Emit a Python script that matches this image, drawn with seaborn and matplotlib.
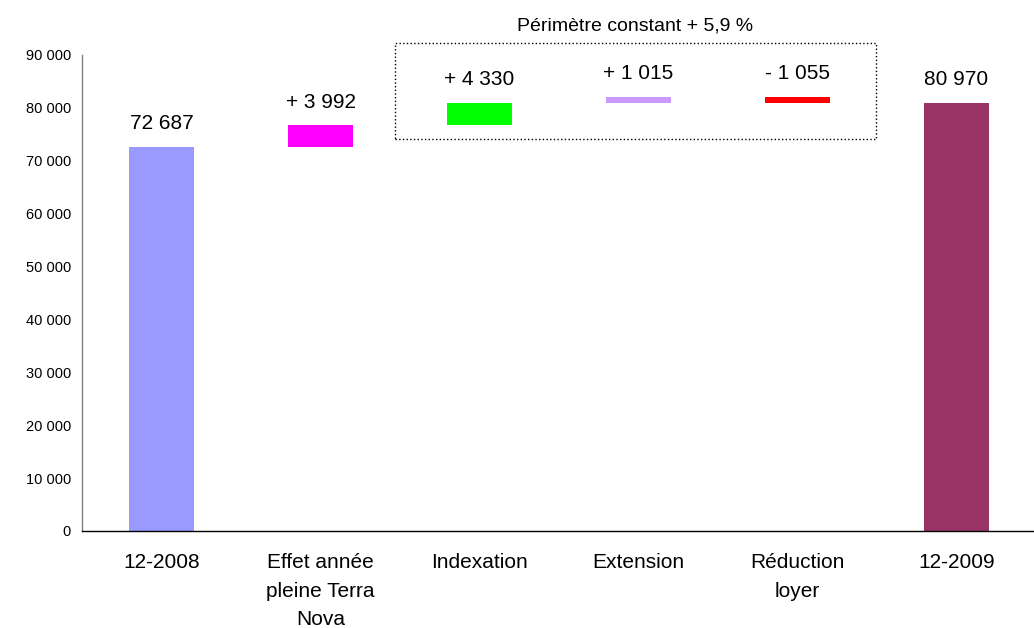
import numpy as np
import pandas as pd
import matplotlib
matplotlib.use("Agg")
import matplotlib.pyplot as plt
from matplotlib.patches import Rectangle
from matplotlib.ticker import FuncFormatter, FixedLocator
import seaborn as sns

# Waterfall data (loyers, k€)
categories = ["12-2008", "Effet année\npleine Terra\nNova", "Indexation",
              "Extension", "Réduction\nloyer", "12-2009"]
start_value = 72687
deltas = [3992, 4330, 1015, -1055]
end_value = 80970
labels = ["72 687", "+ 3 992", "+ 4 330", "+ 1 015", "- 1 055", "80 970"]
colors = ["#9999FF", "#FF00FF", "#00FF00", "#CC99FF", "#FF0000", "#993366"]
box_title = "Périmètre constant + 5,9 %"

# build bar tops / bottoms from the running total
tops, bases = [start_value], [0]
running = start_value
for d in deltas:
    new = running + d
    tops.append(max(running, new))
    bases.append(min(running, new))
    running = new
tops.append(end_value)
bases.append(0)

df = pd.DataFrame({"cat": categories, "top": tops, "base": bases})

sns.set_style("white")
plt.rcParams["font.family"] = ["Liberation Sans", "DejaVu Sans"]
plt.rcParams["text.color"] = "black"
plt.rcParams["xtick.labelcolor"] = "black"
plt.rcParams["ytick.labelcolor"] = "black"

fig = plt.figure(figsize=(10.34, 6.28), dpi=100)
ax = fig.add_axes([82 / 1034, 1 - 531 / 628, 954 / 1034, 476 / 628])

sns.barplot(data=df, x="cat", y="top", hue="cat", palette=colors, legend=False,
            width=0.41, saturation=1, linewidth=0, ax=ax)
# mask the lower part of floating bars
sns.barplot(data=df, x="cat", y="base", color="white", width=0.41, saturation=1,
            linewidth=0, ax=ax)

for i, (t, lab) in enumerate(zip(tops, labels)):
    ax.annotate(lab, (i, t), xytext=(0, 10), textcoords="offset points",
                ha="center", va="bottom", fontsize=15, color="black")

ax.set_xlim(-0.5, 5.5)
ax.set_ylim(0, 90000)
ax.set_yticks(np.arange(0, 90001, 10000))
ax.yaxis.set_major_formatter(FuncFormatter(lambda v, p: f"{int(v):,}".replace(",", " ")))
ax.set_xlabel("")
ax.set_ylabel("")

ax.xaxis.set_minor_locator(FixedLocator(np.arange(-0.5, 6.0, 1.0)))
ax.tick_params(axis="x", which="major", length=0, pad=16, labelsize=15, labelcolor="black")
ax.tick_params(axis="x", which="minor", length=4, width=0.8, color="#808080", direction="out")
ax.tick_params(axis="y", which="major", length=4, width=0.8, color="#808080",
               direction="out", labelsize=10.5, pad=4, labelcolor="black")
for lab in ax.get_xticklabels():
    lab.set_linespacing(1.62)

for s in ["top", "right"]:
    ax.spines[s].set_visible(False)
ax.spines["left"].set_color("#808080")
ax.spines["bottom"].set_color("black")
ax.spines["left"].set_linewidth(1)
ax.spines["bottom"].set_linewidth(1)

# dotted box around the constant-perimeter effects
ax.add_patch(Rectangle((1.47, 74100), 3.025, 18150, fill=False, linestyle=":",
                       linewidth=1, edgecolor="black", clip_on=False))
ax.text(2.98, 95400, box_title, ha="center", va="center", fontsize=14, color="black")

fig.savefig("out.png", dpi=100)
